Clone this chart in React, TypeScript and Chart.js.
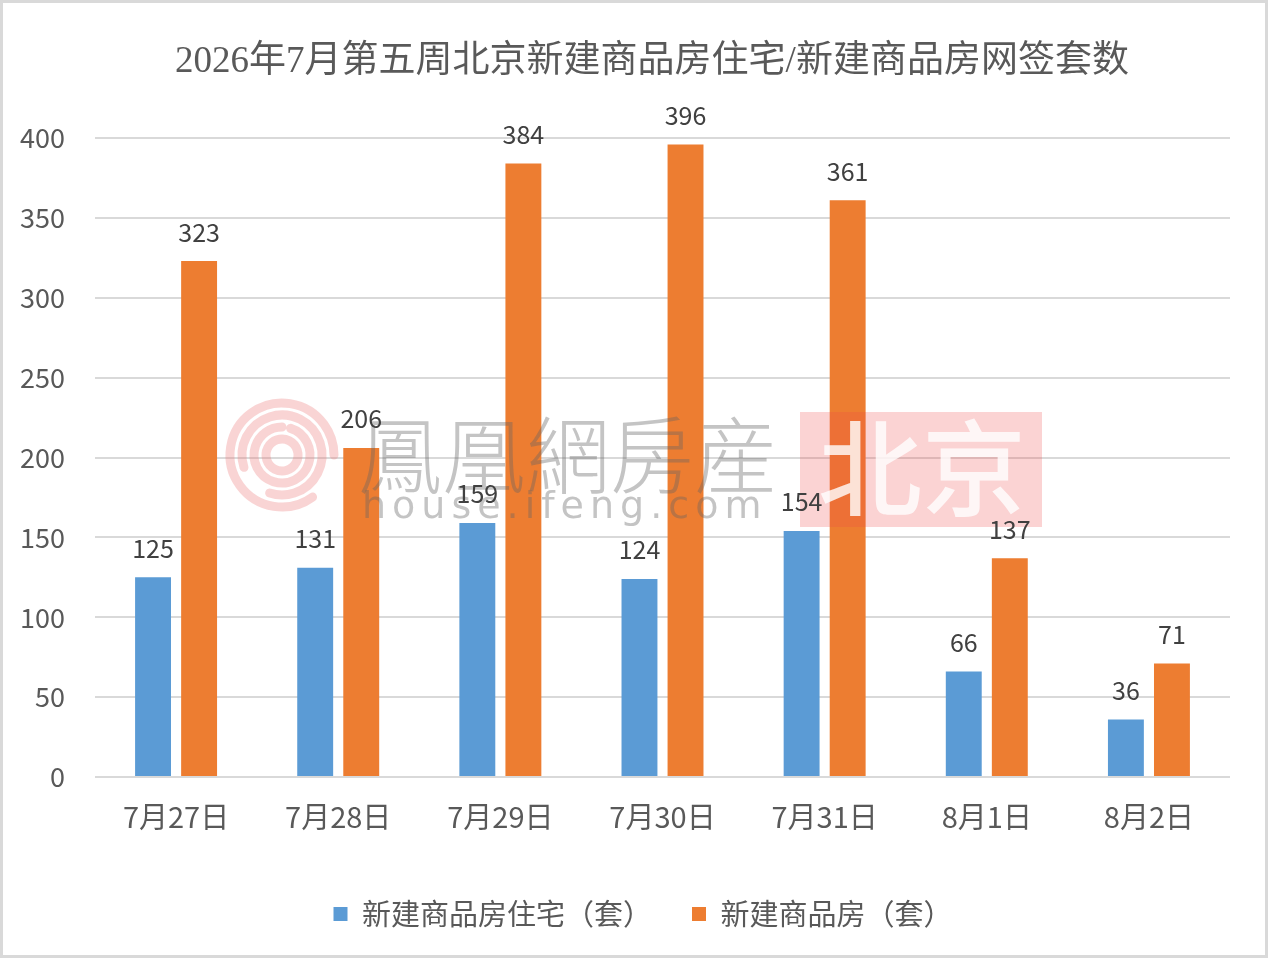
import { useEffect, useRef } from 'react'
import { Chart, registerables } from 'chart.js'

Chart.register(...registerables)

const titleText = '2026年7月第五周北京新建商品房住宅/新建商品房网签套数'
const categories = ['7月27日', '7月28日', '7月29日', '7月30日', '7月31日', '8月1日', '8月2日']
const seriesNames = ['新建商品房住宅（套）', '新建商品房（套）']
const residential = [125, 131, 159, 124, 154, 66, 36]
const allHousing = [323, 206, 384, 396, 361, 137, 71]
const yMin = 0
const yMax = 400
const yStep = 50

const SANS = '"Noto Sans CJK SC", "Noto Sans", sans-serif'

// white page, thin grey frame and the title (centred a bit right of the canvas middle, like the source)
const framePlugin = {
  id: 'frame',
  afterLayout(chart: any) {
    // legend in the source sits a little right of centre
    if (chart.legend) {
      chart.legend.left += 28
      chart.legend.right += 28
    }
  },
  beforeDraw(chart: any) {
    const { ctx, width, height } = chart
    ctx.save()
    ctx.fillStyle = '#ffffff'
    ctx.fillRect(0, 0, width, height)
    ctx.strokeStyle = '#d9d9d9'
    ctx.lineWidth = 3
    ctx.strokeRect(1.5, 1.5, width - 3, height - 3)
    ctx.fillStyle = '#595959'
    ctx.font = `37px "Liberation Serif", ${SANS}`
    ctx.textAlign = 'center'
    ctx.textBaseline = 'middle'
    ctx.fillText(titleText, 652, 62)
    ctx.restore()
  },
}

// faded site watermark over the middle of the plot
const watermarkPlugin = {
  id: 'watermark',
  afterDatasetsDraw(chart: any) {
    const { ctx } = chart
    ctx.save()
    // logo swirl
    ctx.strokeStyle = 'rgba(236, 120, 120, 0.32)'
    ctx.lineCap = 'round'
    const cx = 282, cy = 455
    const rings: [number, number, number][] = [
      [52, 0.3, 2.0], [40, 0.9, 2.6], [28, 1.6, 3.5], [16, 2.4, 4.6],
    ]
    ctx.lineWidth = 9
    rings.forEach(([r, a0, a1]) => {
      ctx.beginPath()
      ctx.arc(cx, cy, r, a0 * Math.PI, a1 * Math.PI)
      ctx.stroke()
    })
    // site name
    ctx.fillStyle = 'rgba(100, 100, 100, 0.38)'
    ctx.textAlign = 'left'
    ctx.textBaseline = 'middle'
    ctx.font = '300 84px "Noto Sans CJK TC", "Noto Sans CJK SC", sans-serif'
    ctx.fillText('鳳凰網房産', 358, 455)
    ctx.font = '38px "DejaVu Sans", sans-serif'
    ;(ctx as any).letterSpacing = '6px'
    ctx.fillText('house.ifeng.com', 362, 508)
    ;(ctx as any).letterSpacing = '0px'
    // city badge
    ctx.fillStyle = 'rgba(240, 70, 70, 0.24)'
    ctx.fillRect(800, 412, 242, 115)
    ctx.fillStyle = 'rgba(255, 255, 255, 0.8)'
    ctx.textAlign = 'center'
    ctx.font = '500 104px "Noto Sans CJK SC", sans-serif'
    ctx.fillText('北京', 922, 468)
    ctx.restore()
  },
}

// value printed above each bar
const valueLabelPlugin = {
  id: 'valueLabels',
  afterDatasetsDraw(chart: any) {
    const { ctx } = chart
    ctx.save()
    ctx.fillStyle = '#404040'
    ctx.font = `25px ${SANS}`
    ctx.textAlign = 'center'
    ctx.textBaseline = 'middle'
    chart.data.datasets.forEach((ds: any, i: number) => {
      const meta = chart.getDatasetMeta(i)
      meta.data.forEach((bar: any, j: number) => {
        ctx.fillText(String(ds.data[j]), bar.x, bar.y - 29)
      })
    })
    ctx.restore()
  },
}

export default function App() {
  const canvasRef = useRef<HTMLCanvasElement | null>(null)

  useEffect(() => {
    document.body.style.margin = '0'
    if (!canvasRef.current) return
    const ctx = canvasRef.current.getContext('2d')
    if (!ctx) return

    const chart = new Chart(ctx, {
      type: 'bar',
      data: {
        labels: categories,
        datasets: [
          {
            label: seriesNames[0],
            data: residential,
            backgroundColor: '#5b9bd5',
            borderWidth: 0,
            categoryPercentage: 0.568,
            barPercentage: 0.78,
          },
          {
            label: seriesNames[1],
            data: allHousing,
            backgroundColor: '#ed7d31',
            borderWidth: 0,
            categoryPercentage: 0.568,
            barPercentage: 0.78,
          },
        ],
      },
      options: {
        responsive: true,
        maintainAspectRatio: false,
        animation: false,
        layout: { padding: { left: 0, right: 38, top: 138, bottom: 19.5 } },
        plugins: {
          title: { display: false },
          legend: {
            position: 'bottom',
            labels: {
              color: '#595959',
              font: { family: SANS, size: 29 },
              boxWidth: 14,
              boxHeight: 14,
              padding: 40,
            },
          },
          tooltip: { enabled: false },
        },
        scales: {
          x: {
            grid: { display: false, drawTicks: false },
            border: { display: false },
            ticks: {
              color: '#595959',
              font: { family: SANS, size: 29 },
              padding: 23,
              maxRotation: 0,
            },
            afterFit(scale: any) {
              scale.height = 82.5
            },
          },
          y: {
            min: yMin,
            max: yMax,
            grid: { color: '#d9d9d9', lineWidth: 2, drawTicks: false },
            border: { display: false },
            ticks: {
              stepSize: yStep,
              color: '#595959',
              font: { family: SANS, size: 27 },
              padding: 30,
            },
            afterFit(scale: any) {
              scale.width = 95
            },
          },
        },
      },
      plugins: [framePlugin, watermarkPlugin, valueLabelPlugin],
    })

    return () => chart.destroy()
  }, [])

  return (
    <div style={{ width: 1268, height: 958, position: 'relative' }}>
      <canvas ref={canvasRef}></canvas>
    </div>
  )
}
